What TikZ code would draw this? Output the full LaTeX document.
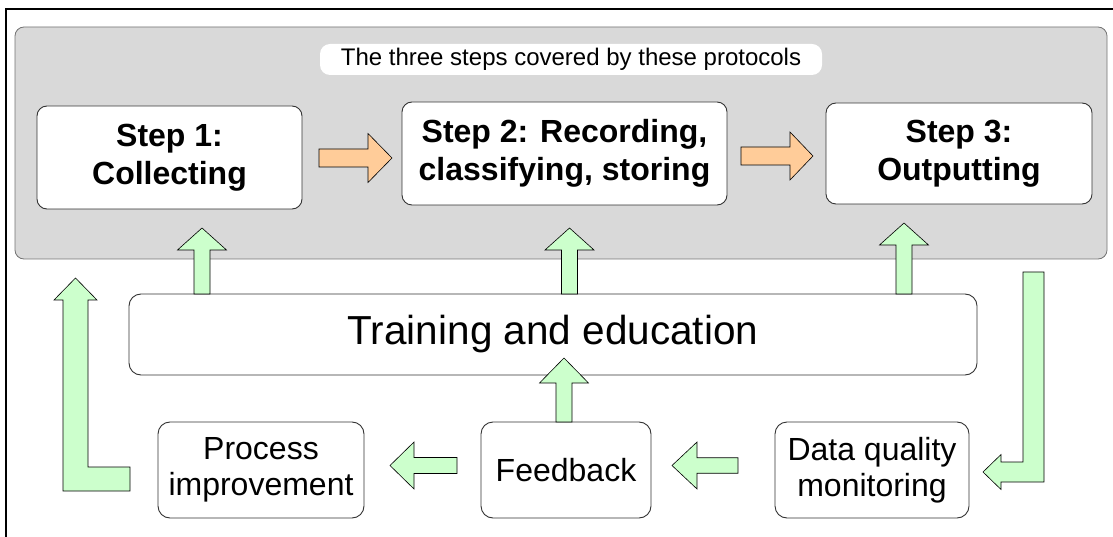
\documentclass[tikz,border=0pt]{standalone}
\usepackage{fontspec}
\setmainfont{Liberation Sans}
\usetikzlibrary{calc}

\definecolor{panelgray}{HTML}{D9D9D9}
\definecolor{orangefill}{HTML}{FFCC99}
\definecolor{greenfill}{HTML}{CCFFCC}
\definecolor{boxline}{HTML}{333333}

% horizontal block arrow: [style]{tail}{tip}{shaft half}{head half}{signed head length}
\newcommand\hblockarrow[6][]{%
  \draw[#1] let \p1=(#2), \p2=(#3) in
    (\x1,{\y2-#4}) -- ({\x2-(#6)},{\y2-#4}) -- ({\x2-(#6)},{\y2-#5}) -- (\x2,\y2)
    -- ({\x2-(#6)},{\y2+#5}) -- ({\x2-(#6)},{\y2+#4}) -- (\x1,{\y2+#4}) -- cycle;}
% vertical block arrow: [style]{tail}{tip}{shaft half}{head half}{signed head length}
\newcommand\vblockarrow[6][]{%
  \draw[#1] let \p1=(#2), \p2=(#3) in
    ({\x1-#4},\y1) -- ({\x1-#4},{\y2-(#6)}) -- ({\x1-#5},{\y2-(#6)}) -- (\x1,\y2)
    -- ({\x1+#5},{\y2-(#6)}) -- ({\x1+#4},{\y2-(#6)}) -- ({\x1+#4},\y1) -- cycle;}

\tikzset{
  panel/.style={draw=black!55, fill=panelgray, rounded corners=9pt, line width=0.8pt, inner sep=0pt},
  titlebox/.style={fill=white, rounded corners=10pt, inner sep=0pt,
    font=\fontsize{24}{28}\selectfont},
  stepbox/.style={draw=boxline, fill=white, rounded corners=10pt, line width=0.9pt,
    align=center, inner sep=0pt, font=\fontsize{32}{37.5}\selectfont\bfseries},
  trainbox/.style={draw=boxline, fill=white, rounded corners=12pt, line width=0.9pt,
    inner sep=0pt, font=\fontsize{40.5}{46}\selectfont},
  smallbox/.style={draw=boxline, fill=white, rounded corners=12pt, line width=0.9pt,
    align=center, inner sep=0pt, minimum height=96pt, font=\fontsize{32}{36.5}\selectfont},
  orangearrow/.style={draw=black, fill=orangefill, line width=0.6pt, line join=miter},
  greenarrow/.style={draw=black, fill=greenfill, line width=0.6pt, line join=miter},
  frameline/.style={draw=black, line width=2pt}
}

\begin{document}
\begin{tikzpicture}[x=1pt, y=1pt]
\useasboundingbox (0,0) rectangle (1113,536);

% outer frame (left and top edges)
\draw[frameline] (6,-10) -- (6,527) -- (1125,527);

% grey panel holding the three steps
\node[panel, minimum width=1092pt, minimum height=232pt] (panel) at (561,393) {};
\node[titlebox, minimum width=502pt, minimum height=31pt] (title) at (571,476.5)
  {The three steps covered by these protocols};

% the three steps
\node[stepbox, minimum width=265pt, minimum height=103pt] (s1) at (169.5,378.5) {Step 1:\\Collecting};
\node[stepbox, minimum width=325pt, minimum height=103pt] (s2) at (564.5,382.5) {Step 2: Recording,\\classifying, storing};
\node[stepbox, minimum width=266pt, minimum height=101pt] (s3) at (959,382.5) {Step 3:\\Outputting};

% training bar
\node[trainbox, minimum width=848pt, minimum height=81pt] (train) at (553,201.5) {Training and education};

% bottom row
\node[smallbox, minimum width=206pt] (proc) at (261,66) {Process\\improvement};
\node[smallbox, minimum width=170pt] (fb) at (566,66) {Feedback};
\node[smallbox, minimum width=194pt] (dq) at (872,66) {Data quality\\monitoring};

% arrow end points
\coordinate (o1a) at (319,378);  \coordinate (o1b) at (392,378);
\coordinate (o2a) at (741,380);  \coordinate (o2b) at (813,380);
\coordinate (u1a) at (202,242);  \coordinate (u1b) at (202,308);
\coordinate (u2a) at (569.5,242);\coordinate (u2b) at (569.5,308);
\coordinate (u3a) at (904,242);  \coordinate (u3b) at (904,313);
\coordinate (fa) at (564,114);   \coordinate (fb2) at (564,178);
\coordinate (da) at (738,70.5);  \coordinate (db) at (672,70.5);
\coordinate (pa) at (457,70.5);  \coordinate (pb) at (390,70.5);
\coordinate (rtop) at (1033.5,264); \coordinate (rtip) at (983,64);
\coordinate (ltail) at (130,57);    \coordinate (ltip) at (75.5,258);

% flow between the steps
\hblockarrow[orangearrow]{o1a}{o1b}{9pt}{24.5pt}{24pt}
\hblockarrow[orangearrow]{o2a}{o2b}{9pt}{24pt}{23pt}

% training feeds every step
\vblockarrow[greenarrow]{u1a}{u1b}{8pt}{24.5pt}{22pt}
\vblockarrow[greenarrow]{u2a}{u2b}{8pt}{24.5pt}{22pt}
\vblockarrow[greenarrow]{u3a}{u3b}{8pt}{24.5pt}{22pt}

% feedback loop
\vblockarrow[greenarrow]{fa}{fb2}{8pt}{24.5pt}{25pt}
\hblockarrow[greenarrow]{da}{db}{7.75pt}{23.5pt}{-25pt}
\hblockarrow[greenarrow]{pa}{pb}{8pt}{23.5pt}{-24pt}

% from the outputs down to monitoring
\draw[greenarrow] let \p1=(rtop), \p2=(rtip) in
  ({\x1-10.5pt},\y1) -- ({\x1+10.5pt},\y1) -- ({\x1+10.5pt},{\y2-10pt})
  -- ({\x2+18pt},{\y2-10pt}) -- ({\x2+18pt},{\y2-17.5pt}) -- (\x2,\y2)
  -- ({\x2+18pt},{\y2+17.5pt}) -- ({\x2+18pt},{\y2+10pt}) -- ({\x1-10.5pt},{\y2+10pt}) -- cycle;

% from process improvement back up to collecting
\draw[greenarrow] let \p1=(ltail), \p2=(ltip) in
  (\x1,{\y1+12pt}) -- ({\x2+12.5pt},{\y1+12pt}) -- ({\x2+12.5pt},{\y2-22pt})
  -- ({\x2+21.5pt},{\y2-22pt}) -- (\x2,\y2) -- ({\x2-21.5pt},{\y2-22pt})
  -- ({\x2-12.5pt},{\y2-22pt}) -- ({\x2-12.5pt},{\y1-12pt}) -- (\x1,{\y1-12pt}) -- cycle;
\end{tikzpicture}
\end{document}
